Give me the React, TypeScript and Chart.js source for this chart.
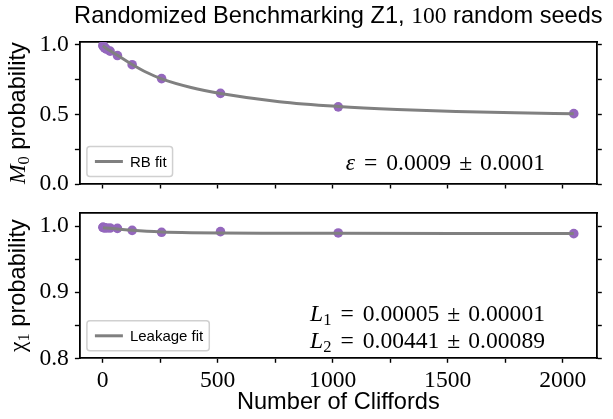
import React, { useEffect, useRef } from 'react';
import { Chart, registerables } from 'chart.js';

Chart.register(...registerables);

// ---------- data ----------
const cliffords = [1, 2, 4, 8, 16, 32, 64, 128, 256, 512, 1024, 2048];
const m0Values = [0.997, 0.993, 0.988, 0.98, 0.97, 0.956, 0.924, 0.858, 0.758, 0.652, 0.555, 0.506];
const rbFitX = [1, 16, 32, 64, 128, 192, 256, 384, 512, 768, 1024, 1280, 1536, 1792, 2048];
const rbFitY = [0.995, 0.975, 0.958, 0.926, 0.86, 0.802, 0.756, 0.694, 0.651, 0.592, 0.558, 0.536, 0.521, 0.512, 0.506];
const chi1Values = [0.998, 0.998, 0.9975, 0.9975, 0.997, 0.997, 0.9965, 0.9935, 0.9905, 0.9915, 0.9895, 0.9885];
const leakFitX = [1, 32, 64, 128, 192, 256, 384, 512, 768, 1024, 1536, 2048];
const leakFitY = [0.9975, 0.9965, 0.9955, 0.9935, 0.992, 0.991, 0.99, 0.9895, 0.9892, 0.989, 0.9888, 0.9886];

const xMajorTicks = [0, 500, 1000, 1500, 2000];
const xMinorTicks = [250, 750, 1250, 1750];
const topYMajorTicks = [0.0, 0.5, 1.0];
const topYMinorTicks = [0.25, 0.75];
const botYMajorTicks = [0.8, 0.9, 1.0];
const botYMinorTicks = [0.85, 0.95];

const titleParts = ['Randomized Benchmarking Z1, ', '100', ' random seeds'];
const xAxisTitle = 'Number of Cliffords';
const rbLegend = 'RB fit';
const leakLegend = 'Leakage fit';
const epsText = ['ε', '0.0009', '0.0001'];
const l1Text = ['L', '1', '0.00005', '0.00001'];
const l2Text = ['L', '2', '0.00441', '0.00089'];

// ---------- styles ----------
const W = 613;
const H = 419;
const AX_LEFT = 79.4;
const AX_RIGHT = 597.3;
const TOP_AX = { top: 42.2, bottom: 184 };
const BOT_AX = { top: 212.8, bottom: 358.3 };
const X_MIN = -101.35;
const X_MAX = 2150.35;
const PURPLE = '#9467bd';
const GRAY = '#808080';
const SERIF = '"Liberation Serif", "DejaVu Serif", serif';
const SANS = '"Liberation Sans", Arial, sans-serif';
const FS = 23.6;

type Piece = { t: string; font: string; dy?: number; gap?: number };

function drawPieces(ctx: CanvasRenderingContext2D, pieces: Piece[], x: number, y: number, align: 'left' | 'center' | 'right') {
  const widths = pieces.map((p) => {
    ctx.font = p.font;
    return ctx.measureText(p.t).width + 2 * (p.gap || 0);
  });
  const total = widths.reduce((a, b) => a + b, 0);
  let cx = align === 'left' ? x : align === 'center' ? x - total / 2 : x - total;
  ctx.textAlign = 'left';
  ctx.textBaseline = 'alphabetic';
  pieces.forEach((p, i) => {
    ctx.font = p.font;
    ctx.fillText(p.t, cx + (p.gap || 0), y + (p.dy || 0));
    cx += widths[i];
  });
}

function mathPieces(sym: string, sub: string | null, a: string, b: string): Piece[] {
  const rm = `${FS}px ${SERIF}`;
  const it = `italic ${FS}px ${SERIF}`;
  const pieces: Piece[] = [{ t: sym, font: it }];
  if (sub) pieces.push({ t: sub, font: `${FS * 0.7}px ${SERIF}`, dy: 4 });
  pieces.push({ t: '=', font: rm, gap: 9 });
  pieces.push({ t: a, font: rm });
  pieces.push({ t: '±', font: rm, gap: 8 });
  pieces.push({ t: b, font: rm });
  return pieces;
}

function drawLegend(ctx: CanvasRenderingContext2D, area: any, label: string) {
  ctx.save();
  ctx.font = `15px ${SANS}`;
  const tw = ctx.measureText(label).width;
  const h = 30;
  const x = area.left + 7.5;
  const y = area.bottom - 7.5 - h;
  const lineX0 = x + 8;
  const lineX1 = lineX0 + 28;
  const textX = lineX1 + 7;
  const w = textX + tw + 6 - x;
  ctx.beginPath();
  (ctx as any).roundRect(x, y, w, h, 3);
  ctx.fillStyle = 'rgba(255,255,255,0.8)';
  ctx.fill();
  ctx.strokeStyle = '#d0d0d0';
  ctx.lineWidth = 1.5;
  ctx.stroke();
  ctx.beginPath();
  ctx.moveTo(lineX0, y + h / 2);
  ctx.lineTo(lineX1, y + h / 2);
  ctx.strokeStyle = GRAY;
  ctx.lineWidth = 3;
  ctx.stroke();
  ctx.fillStyle = '#000';
  ctx.textAlign = 'left';
  ctx.textBaseline = 'middle';
  ctx.fillText(label, textX, y + h / 2 + 1);
  ctx.restore();
}

function drawYLabel(ctx: CanvasRenderingContext2D, area: any, sym: string, symItalic: boolean, sub: string) {
  ctx.save();
  ctx.fillStyle = '#000';
  ctx.translate(25, (area.top + area.bottom) / 2);
  ctx.rotate(-Math.PI / 2);
  drawPieces(
    ctx,
    [
      { t: sym, font: `${symItalic ? 'italic ' : ''}${FS}px ${SERIF}` },
      { t: sub, font: `${FS * 0.7}px ${SERIF}`, dy: 4 },
      { t: ' probability', font: `${FS}px ${SANS}` },
    ],
    0,
    0,
    'center'
  );
  ctx.restore();
}

type PanelOpts = {
  fitX: number[];
  fitY: number[];
  values: number[];
  yMin: number;
  yMax: number;
  yMajor: number[];
  yMinor: number[];
  area: { top: number; bottom: number };
  showXLabels: boolean;
  draw: (ctx: CanvasRenderingContext2D, area: any) => void;
};

function makeConfig(o: PanelOpts): any {
  const tickGrid = {
    drawOnChartArea: false,
    drawTicks: true,
    tickLength: 4.5,
    tickWidth: 1.4,
    tickColor: '#000',
  };
  const border = { display: true, color: '#000', width: 1.8 };
  const yTicks = [...o.yMajor, ...o.yMinor].sort((a, b) => a - b);
  const xTicks = [...xMajorTicks, ...xMinorTicks].sort((a, b) => a - b);
  return {
    type: 'scatter',
    data: {
      datasets: [
        {
          data: o.fitX.map((x, i) => ({ x, y: o.fitY[i] })),
          showLine: true,
          borderColor: GRAY,
          borderWidth: 3,
          pointRadius: 0,
          cubicInterpolationMode: 'monotone',
          fill: false,
          xAxisID: 'x',
          yAxisID: 'y',
        },
        {
          data: cliffords.map((x, i) => ({ x, y: o.values[i] })),
          showLine: false,
          backgroundColor: PURPLE,
          borderWidth: 0,
          pointRadius: 4.8,
          pointHoverRadius: 4.8,
          xAxisID: 'x',
          yAxisID: 'y',
        },
      ],
    },
    options: {
      responsive: false,
      animation: false,
      devicePixelRatio: 1,
      events: [],
      layout: { padding: 0 },
      plugins: { legend: { display: false }, tooltip: { enabled: false }, title: { display: false } },
      scales: {
        x: {
          type: 'linear',
          position: 'bottom',
          min: X_MIN,
          max: X_MAX,
          afterBuildTicks: (s: any) => {
            s.ticks = xTicks.map((v) => ({ value: v }));
          },
          ticks: {
            autoSkip: false,
            maxRotation: 0,
            padding: 4,
            color: '#000',
            font: { family: SERIF, size: FS },
            callback: (v: number) => (o.showXLabels && xMajorTicks.includes(v) ? String(v) : ''),
          },
          grid: tickGrid,
          border,
          afterFit: (s: any) => {
            s.height = H - o.area.bottom;
          },
        },
        x2: {
          type: 'linear',
          position: 'top',
          min: X_MIN,
          max: X_MAX,
          ticks: { display: false },
          grid: { display: false },
          border,
          afterFit: (s: any) => {
            s.height = o.area.top;
          },
        },
        y: {
          type: 'linear',
          position: 'left',
          min: o.yMin,
          max: o.yMax,
          afterBuildTicks: (s: any) => {
            s.ticks = yTicks.map((v) => ({ value: v }));
          },
          ticks: {
            autoSkip: false,
            padding: 6,
            color: '#000',
            font: { family: SERIF, size: FS },
            callback: (v: number) => (o.yMajor.some((m) => Math.abs(m - v) < 1e-9) ? v.toFixed(1) : ''),
          },
          grid: tickGrid,
          border,
          afterFit: (s: any) => {
            s.width = AX_LEFT;
          },
        },
        y2: {
          type: 'linear',
          position: 'right',
          min: o.yMin,
          max: o.yMax,
          afterBuildTicks: (s: any) => {
            s.ticks = yTicks.map((v) => ({ value: v }));
          },
          ticks: { display: false },
          grid: tickGrid,
          border,
          afterFit: (s: any) => {
            s.width = W - AX_RIGHT;
          },
        },
      },
    },
    plugins: [
      {
        id: 'panelText',
        afterDraw: (chart: any) => {
          const ctx = chart.ctx as CanvasRenderingContext2D;
          ctx.save();
          o.draw(ctx, chart.chartArea);
          ctx.restore();
        },
      },
    ],
  };
}

function Panel({ opts }: { opts: PanelOpts }) {
  const ref = useRef<HTMLCanvasElement | null>(null);
  useEffect(() => {
    if (!ref.current) return;
    const chart = new Chart(ref.current, makeConfig(opts));
    return () => chart.destroy();
  }, []);
  return (
    <canvas
      ref={ref}
      width={W}
      height={H}
      style={{ position: 'absolute', left: 0, top: 0, width: W, height: H, display: 'block' }}
    />
  );
}

const topOpts: PanelOpts = {
  fitX: rbFitX,
  fitY: rbFitY,
  values: m0Values,
  yMin: 0,
  yMax: 1.02,
  yMajor: topYMajorTicks,
  yMinor: topYMinorTicks,
  area: TOP_AX,
  showXLabels: false,
  draw: (ctx, area) => {
    ctx.fillStyle = '#000';
    drawPieces(
      ctx,
      [
        { t: titleParts[0], font: `${FS}px ${SANS}` },
        { t: titleParts[1], font: `${FS}px ${SERIF}` },
        { t: titleParts[2], font: `${FS}px ${SANS}` },
      ],
      (area.left + area.right) / 2,
      23,
      'center'
    );
    drawYLabel(ctx, area, 'M', true, '0');
    ctx.fillStyle = '#000';
    drawPieces(ctx, mathPieces(epsText[0], null, epsText[1], epsText[2]), 545, 170, 'right');
    drawLegend(ctx, area, rbLegend);
  },
};

const botOpts: PanelOpts = {
  fitX: leakFitX,
  fitY: leakFitY,
  values: chi1Values,
  yMin: 0.8,
  yMax: 1.02,
  yMajor: botYMajorTicks,
  yMinor: botYMinorTicks,
  area: BOT_AX,
  showXLabels: true,
  draw: (ctx, area) => {
    ctx.fillStyle = '#000';
    drawYLabel(ctx, area, 'χ', false, '1');
    ctx.fillStyle = '#000';
    drawPieces(ctx, mathPieces(l1Text[0], l1Text[1], l1Text[2], l1Text[3]), 545, 321, 'right');
    drawPieces(ctx, mathPieces(l2Text[0], l2Text[1], l2Text[2], l2Text[3]), 545, 348, 'right');
    ctx.font = `${FS}px ${SANS}`;
    ctx.textAlign = 'center';
    ctx.textBaseline = 'alphabetic';
    ctx.fillText(xAxisTitle, (area.left + area.right) / 2, 409);
    drawLegend(ctx, area, leakLegend);
  },
};

export default function App() {
  return (
    <div style={{ position: 'absolute', left: 0, top: 0, width: W, height: H, background: '#fff' }}>
      <Panel opts={botOpts} />
      <Panel opts={topOpts} />
    </div>
  );
}
